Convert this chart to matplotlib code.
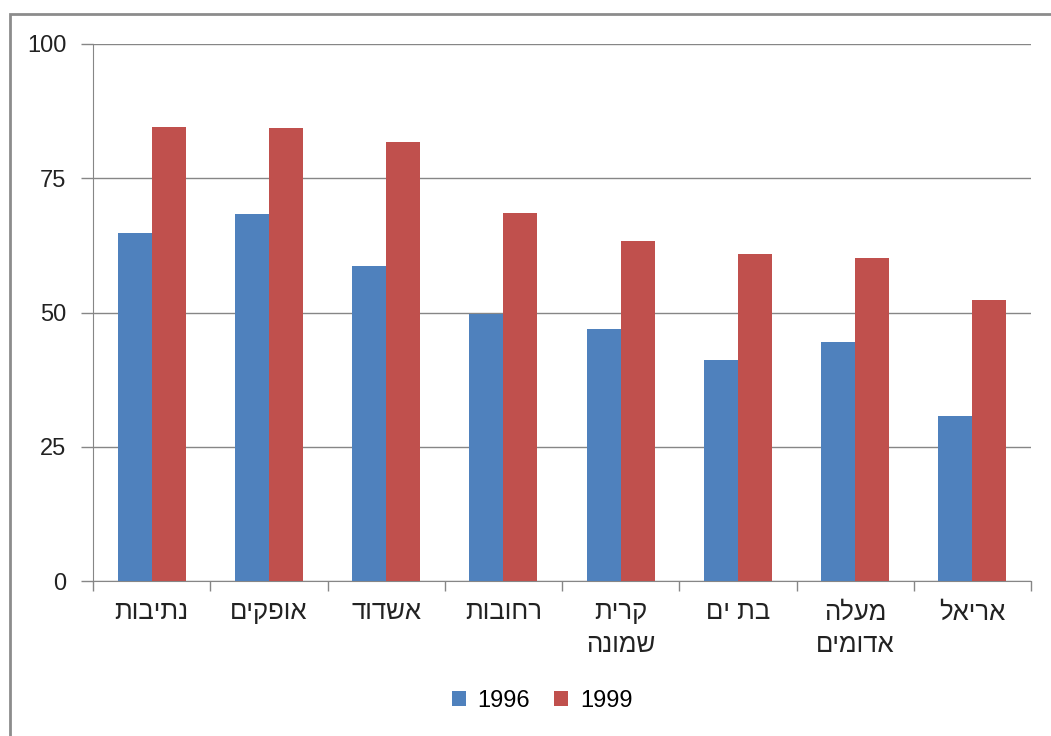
import numpy as np
import matplotlib
matplotlib.use("Agg")
import matplotlib.pyplot as plt
from matplotlib.patches import Rectangle

plt.rcParams['font.family'] = ['Liberation Sans', 'DejaVu Sans']

# data
cities = ["נתיבות", "אופקים", "אשדוד", "רחובות", "קרית\nשמונה", "בת ים", "מעלה\nאדומים", "אריאל"]
v1996 = [64.8, 68.3, 58.7, 49.7, 46.9, 41.2, 44.5, 30.7]
v1999 = [84.5, 84.4, 81.8, 68.5, 63.3, 60.9, 60.1, 52.3]
yticks = [0, 25, 50, 75, 100]


def rtl(s):
    # matplotlib has no bidi support: reverse each line for display
    return "\n".join(line[::-1] for line in s.split("\n"))


fig = plt.figure(figsize=(10.51, 7.36), dpi=100)
ax = fig.add_axes([93 / 1051, 155 / 736, 938 / 1051, 537 / 736])

# outer chart frame
fig.patches.append(Rectangle((10 / 1051, -0.01), 1.05, (736 - 14) / 736 + 0.01,
                             transform=fig.transFigure, fill=False,
                             edgecolor="#8c8c8c", linewidth=2))

x = np.arange(len(cities))
w = 0.29
ax.bar(x - w / 2, v1996, w, color="#4F81BD", label="1996", zorder=3)
ax.bar(x + w / 2, v1999, w, color="#C0504D", label="1999", zorder=3)

ax.set_xlim(-0.5, len(cities) - 0.5)
ax.set_ylim(0, 100)
ax.set_yticks(yticks)
ax.set_yticklabels([str(t) for t in yticks], fontsize=17, color="#222222")
ax.grid(axis="y", color="#868686", linewidth=1, zorder=0)

ax.set_xticks(x)
ax.set_xticklabels([rtl(c) for c in cities], fontsize=18.5, color="#222222",
                   va="top", linespacing=1.45)
ax.set_xticks(np.arange(-0.5, len(cities)), minor=True)
ax.tick_params(axis="x", which="major", length=0, pad=14)
ax.tick_params(axis="x", which="minor", length=7, color="#868686", width=1)
ax.tick_params(axis="y", length=9, color="#868686", width=1, pad=10)

for side in ["top", "right"]:
    ax.spines[side].set_visible(False)
ax.spines["left"].set_color("#868686")
ax.spines["bottom"].set_color("#868686")

fig.legend(loc="center", bbox_to_anchor=(542 / 1051, 1 - 701 / 736), ncol=2,
           frameon=False, fontsize=17, handlelength=0.6, handleheight=0.6,
           columnspacing=1.0, handletextpad=0.5)

fig.savefig("out.png", dpi=100)
